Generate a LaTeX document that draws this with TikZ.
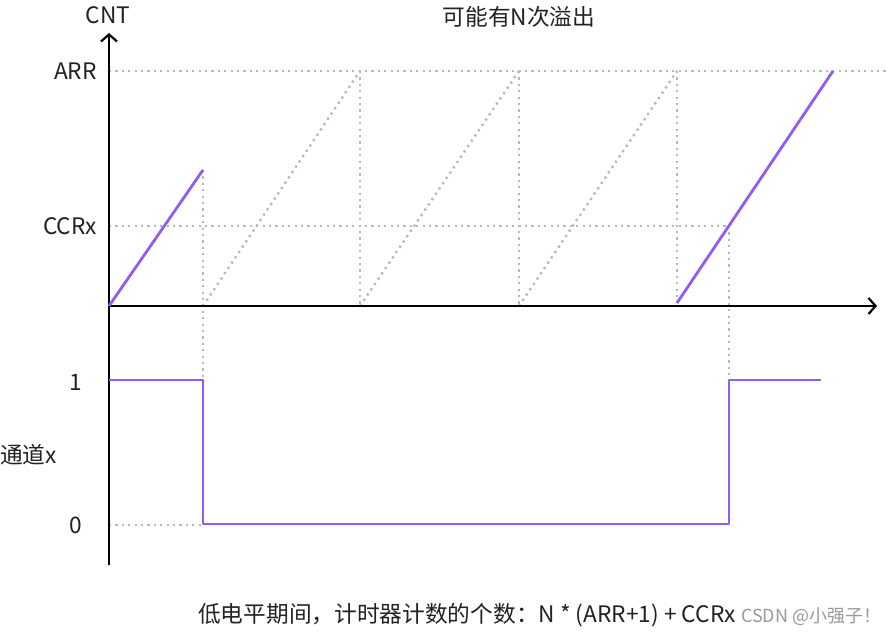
\documentclass[tikz,border=0pt]{standalone}
\usepackage{fontspec}
\setmainfont{Noto Sans CJK SC}
\usetikzlibrary{arrows.meta}
\definecolor{sig}{HTML}{8F5CF6}
\definecolor{gridc}{HTML}{B8B8B8}
\definecolor{txt}{HTML}{222222}
\definecolor{wm}{HTML}{999999}
\begin{document}
\begin{tikzpicture}[x=1pt,y=-1pt,
  axisline/.style={line width=2.5pt, black, -{Straight Barb[length=7pt,width=16pt,line width=2.2pt]}},
  dotline/.style={gridc, line width=2.4pt, dash pattern=on 2.2pt off 4.2pt},
  sigline/.style={sig, line width=2.8pt, line join=round},
  lbl/.style={text=txt, inner sep=0pt, font=\fontsize{22.7}{26}\selectfont},
  wmark/.style={text=wm, inner sep=0pt, font=\fontsize{18}{21}\selectfont}]
\useasboundingbox (0,0) rectangle (886,636);
\fill[white] (0,0) rectangle (886,636);

% key coordinates
\coordinate (O) at (109,306);
\coordinate (ytop) at (109,33);
\coordinate (ybot) at (109,565);
\coordinate (xend) at (877,306);
\coordinate (arrL) at (109,71);
\coordinate (arrR) at (886,71);
\coordinate (ccrL) at (109,226);
\coordinate (ccrR) at (729,226);
\coordinate (zL) at (109,525);
\coordinate (zR) at (203,525);
\coordinate (p1) at (203,170);
\coordinate (b1) at (203,306);
\coordinate (b2) at (360,306);
\coordinate (b3) at (519,306);
\coordinate (b4) at (677,303);
\coordinate (t2) at (360,71);
\coordinate (t3) at (519,71);
\coordinate (t4) at (677,71);
\coordinate (t5) at (833,71);
\coordinate (h1) at (203,380);
\coordinate (h2) at (729,380);
\coordinate (s0) at (109,380);
\coordinate (s1) at (203,524);
\coordinate (s2) at (729,524);
\coordinate (s3) at (821,380);

% dotted guides
\draw[dotline] (arrL) -- (arrR);
\draw[dotline] (ccrL) -- (ccrR);
\draw[dotline] (zL) -- (zR);
\draw[dotline] (b1) -- (t2);
\draw[dotline] (b2) -- (t3);
\draw[dotline] (b3) -- (t4);
\draw[dotline] (p1) -- (h1);
\draw[dotline] (t2) -- (b2);
\draw[dotline] (t3) -- (b3);
\draw[dotline] (t4) -- (b4);
\draw[dotline] (ccrR) -- (h2);

% axes
\draw[axisline] (ybot) -- (ytop);
\draw[axisline] (O) -- (xend);

% counter ramps
\draw[sigline] (O) -- (p1);
\draw[sigline] (b4) -- (t5);

% channel signal
\draw[sigline] (s0) -- (h1) -- (s1) -- (s2) -- (h2) -- (s3);

% labels
\node[lbl] (cnt) at (108,15) {CNT};
\node[lbl, anchor=east] (arr) at (97,71) {ARR};
\node[lbl, anchor=east] (ccr) at (97,226) {CCRx};
\node[lbl, anchor=east] (one) at (82,382) {1};
\node[lbl, anchor=east] (zero) at (82,525) {0};
\node[lbl, anchor=west] (ch) at (0,455) {通道x};
\node[lbl] (ovf) at (519,17) {可能有N次溢出};
\node[lbl, anchor=base west] (note) at (198,622) {低电平期间，计时器计数的个数：N * (ARR+1) + CCRx};
\node[wmark, anchor=base west] (wmk) at (741,622) {CSDN @小强子！};
\end{tikzpicture}
\end{document}
